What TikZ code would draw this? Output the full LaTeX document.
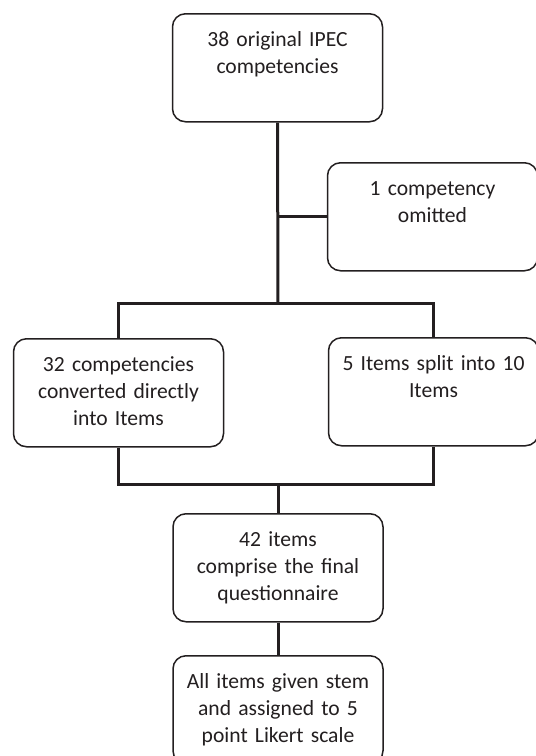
\documentclass[tikz,border=0pt]{standalone}
\usepackage{fontspec}
\setmainfont{Carlito}
\usepackage{xcolor}
\usetikzlibrary{positioning}
\definecolor{ink}{RGB}{35,31,32}

\begin{document}
\begin{tikzpicture}[x=1pt,y=-1pt,
    stage/.style={draw=ink, line width=1.5pt, rounded corners=13pt, fill=white,
        text width=190pt, align=center, inner xsep=10pt, inner ysep=0pt,
        text height=33pt, text depth=75pt, anchor=north, text=ink,
        font=\fontsize{21.6}{27}\selectfont},
    link/.style={draw=ink, line width=3pt}]
    \useasboundingbox (0,0) rectangle (536,756);
    \clip (0,0) rectangle (536,756);

    \node[stage] (orig) at (277.5, 13) {38 original IPEC\\competencies};
    \node[stage] (omit) at (432.5, 162) {1 competency\\omitted};

    \node[stage] (direct) at (118.5, 338) {32 competencies\\converted directly\\into Items};
    \node[stage] (split) at (433.5, 337) {5 Items split into 10\\Items};

    \node[stage] (final) at (278, 513) {42 items\\comprise the final\\questionnaire};
    \node[stage] (likert) at (278, 655) {All items given stem\\and assigned to 5\\point Likert scale};

    \coordinate (fork) at (278, 303);
    \coordinate (join) at (278, 484);

    \draw[link] (orig.south) -- (fork);
    \draw[link] (orig.south |- omit.west) -- (omit.west);
    \draw[link] (direct.north) |- (fork) -| (split.north);
    \draw[link] (direct.south) |- (join) -| (split.south);
    \draw[link] (join) -- (final.north);
    \draw[link] (final.south) -- (likert.north);
\end{tikzpicture}
\end{document}
